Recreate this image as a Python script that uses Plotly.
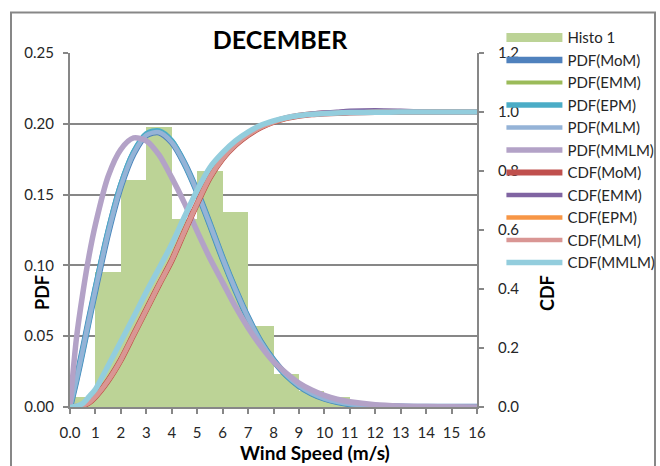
import plotly.graph_objects as go

# ---------------- data ----------------
bin_centers = [0.5, 1.5, 2.5, 3.5, 4.5, 5.5, 6.5, 7.5, 8.5, 9.5, 10.5, 11.5]
histo = [0.007, 0.095, 0.160, 0.198, 0.133, 0.167, 0.138, 0.057, 0.023, 0.011, 0.007, 0.002]

x_curve = [0, 0.25, 0.5, 0.75, 1, 1.5, 2, 2.5, 3, 3.5, 4, 4.5, 5, 5.5, 6, 6.5,
           7, 7.5, 8, 8.5, 9, 9.5, 10, 10.5, 11, 12, 13, 14, 15, 16]

pdf_mom = [0, 0.019, 0.040, 0.062, 0.083, 0.123, 0.156, 0.179, 0.192, 0.194, 0.187, 0.172,
           0.152, 0.129, 0.105, 0.083, 0.063, 0.046, 0.033, 0.0226, 0.015, 0.0097, 0.006,
           0.0036, 0.0021, 0.00065, 0.00017, 0.00004, 0.00001, 0]
pdf_emm = [0, 0.019, 0.040, 0.062, 0.083, 0.123, 0.156, 0.179, 0.192, 0.194, 0.187, 0.172,
           0.152, 0.129, 0.105, 0.083, 0.063, 0.046, 0.033, 0.0226, 0.015, 0.0097, 0.006,
           0.0036, 0.0021, 0.00065, 0.00017, 0.00004, 0.00001, 0]
pdf_epm = [0, 0.019, 0.040, 0.062, 0.084, 0.124, 0.157, 0.180, 0.193, 0.195, 0.188, 0.172,
           0.152, 0.129, 0.105, 0.083, 0.063, 0.046, 0.033, 0.0226, 0.015, 0.0097, 0.006,
           0.0036, 0.0021, 0.00065, 0.00017, 0.00004, 0.00001, 0]
pdf_mlm = [0, 0.019, 0.040, 0.062, 0.083, 0.123, 0.156, 0.179, 0.192, 0.194, 0.187, 0.172,
           0.152, 0.129, 0.105, 0.083, 0.063, 0.046, 0.033, 0.0226, 0.015, 0.0097, 0.006,
           0.0036, 0.0021, 0.00065, 0.00017, 0.00004, 0.00001, 0]
pdf_mmlm = [0, 0.048, 0.080, 0.107, 0.129, 0.163, 0.182, 0.190, 0.188, 0.178, 0.162, 0.144,
            0.124, 0.105, 0.088, 0.071, 0.056, 0.043, 0.032, 0.024, 0.017, 0.012, 0.0082,
            0.0055, 0.0037, 0.0016, 0.0007, 0.0003, 0.0001, 0.00005]

cdf_mom = [0, 0.001, 0.005, 0.015, 0.035, 0.090, 0.160, 0.245, 0.330, 0.415, 0.497, 0.595,
           0.690, 0.778, 0.842, 0.888, 0.922, 0.948, 0.966, 0.979, 0.987, 0.992, 0.995,
           0.997, 0.998, 1.0, 1.0, 1.0, 1.0, 1.0]
cdf_emm = [0, 0.001, 0.005, 0.015, 0.035, 0.090, 0.160, 0.245, 0.330, 0.415, 0.497, 0.595,
           0.690, 0.778, 0.842, 0.888, 0.922, 0.948, 0.966, 0.979, 0.988, 0.994, 0.998,
           1.001, 1.004, 1.006, 1.004, 1.001, 1.0, 1.0]
cdf_epm = [0, 0.001, 0.005, 0.015, 0.035, 0.090, 0.160, 0.245, 0.330, 0.415, 0.497, 0.595,
           0.690, 0.778, 0.842, 0.888, 0.922, 0.948, 0.966, 0.979, 0.987, 0.992, 0.995,
           0.997, 0.998, 1.0, 1.0, 1.0, 1.0, 1.0]
cdf_mlm = [0, 0.001, 0.005, 0.015, 0.035, 0.090, 0.160, 0.245, 0.330, 0.415, 0.497, 0.595,
           0.690, 0.778, 0.842, 0.888, 0.922, 0.948, 0.966, 0.979, 0.987, 0.992, 0.995,
           0.997, 0.998, 1.0, 1.0, 1.0, 1.0, 1.0]
cdf_mmlm = [0, 0.003, 0.012, 0.035, 0.060, 0.140, 0.222, 0.305, 0.390, 0.470, 0.552, 0.645,
            0.735, 0.812, 0.862, 0.902, 0.932, 0.955, 0.970, 0.981, 0.988, 0.992, 0.995,
            0.997, 0.998, 0.999, 1.0, 1.0, 1.0, 1.0]

x_tickvals = list(range(0, 17))
x_ticktext = ["0.0"] + [str(v) for v in range(1, 17)]

# ---------------- figure ----------------
FONT = "Lato"
AX = "#878787"
TXT = "#262626"

fig = go.Figure()

fig.add_trace(go.Bar(x=bin_centers, y=histo, width=1.0, marker=dict(color="#BCD396", line=dict(width=0)),
                     name="Histo 1", showlegend=False, hoverinfo="x+y"))
# legend proxy for the histogram (wide green swatch)
fig.add_trace(go.Scatter(x=[None], y=[None], mode="lines", name="Histo 1",
                         line=dict(color="#BCD396", width=9)))

pdf_series = [("PDF(MoM)", pdf_mom, "#4F81BD", 6.5),
              ("PDF(EMM)", pdf_emm, "#9BBB59", 4.0),
              ("PDF(EPM)", pdf_epm, "#4BACC6", 5.5),
              ("PDF(MLM)", pdf_mlm, "#95B3D7", 4.5),
              ("PDF(MMLM)", pdf_mmlm, "#B3A2C7", 5.5)]
for name, ys, col, w in pdf_series:
    fig.add_trace(go.Scatter(x=x_curve, y=ys, mode="lines", name=name,
                             line=dict(color=col, width=w, shape="spline", smoothing=0.8)))

cdf_series = [("CDF(MoM)", cdf_mom, "#C0504D", 6.0),
              ("CDF(EMM)", cdf_emm, "#8064A2", 4.5),
              ("CDF(EPM)", cdf_epm, "#F79646", 4.5),
              ("CDF(MLM)", cdf_mlm, "#D99694", 4.5),
              ("CDF(MMLM)", cdf_mmlm, "#93CDDD", 5.5)]
for name, ys, col, w in cdf_series:
    fig.add_trace(go.Scatter(x=x_curve, y=ys, mode="lines", name=name, yaxis="y2",
                             line=dict(color=col, width=w, shape="spline", smoothing=0.8)))

fig.update_layout(
    width=660, height=466,
    margin=dict(l=70, r=183, t=53, b=59, autoexpand=False),
    paper_bgcolor="white", plot_bgcolor="white",
    font=dict(family=FONT, size=15, color=TXT),
    bargap=0,
    title=dict(text="<b>DECEMBER</b>", x=0.516, xref="paper", xanchor="center",
               y=1 - 40 / 466, yref="container", yanchor="middle",
               font=dict(family=FONT, size=25, color="#000000")),
    xaxis=dict(range=[0, 16], tickvals=x_tickvals, ticktext=x_ticktext,
               showgrid=False, zeroline=False, showline=True, linecolor=AX, linewidth=2,
               ticks="outside", ticklen=5, tickcolor=AX, tickwidth=2, ticklabelstandoff=6,
               tickfont=dict(size=15, color=TXT)),
    yaxis=dict(range=[0, 0.25], dtick=0.05, tickformat=".2f",
               showgrid=True, gridcolor=AX, gridwidth=1.5, zeroline=False,
               showline=True, linecolor=AX, linewidth=2,
               ticks="outside", ticklen=5, tickcolor=AX, tickwidth=2, ticklabelstandoff=6,
               tickfont=dict(size=15, color=TXT)),
    yaxis2=dict(range=[0, 1.2], dtick=0.2, tickformat=".1f", overlaying="y", side="right",
                showgrid=False, zeroline=False, showline=True, linecolor=AX, linewidth=2,
                ticks="outside", ticklen=5, tickcolor=AX, tickwidth=2, ticklabelstandoff=11,
                tickfont=dict(size=15, color=TXT)),
    legend=dict(x=1.06, xanchor="left", y=1.09, yanchor="top", bgcolor="rgba(0,0,0,0)",
                font=dict(family=FONT, size=15, color=TXT), itemwidth=56,
                traceorder="normal", tracegroupgap=0, maxheight=460),
    showlegend=True,
)

fig.add_annotation(text="<b>PDF</b>", x=(42 - 70) / 407, y=(407 - 293) / 354, xref="paper", yref="paper",
                   xanchor="center", yanchor="middle",
                   showarrow=False, textangle=-90, font=dict(family=FONT, size=18, color="#000000"))
fig.add_annotation(text="<b>CDF</b>", x=(547 - 70) / 407, y=(407 - 293) / 354, xref="paper", yref="paper",
                   xanchor="center", yanchor="middle",
                   showarrow=False, textangle=-90, font=dict(family=FONT, size=18, color="#000000"))
fig.add_annotation(text="<b>Wind Speed (m/s)</b>", x=(315 - 70) / 407, y=(407 - 452) / 354,
                   xref="paper", yref="paper", xanchor="center", yanchor="middle", showarrow=False,
                   font=dict(family=FONT, size=19, color="#000000"))

fig.add_shape(type="rect", xref="paper", yref="paper",
              x0=(11 - 70) / 407, x1=(655 - 70) / 407, y0=(407 - 475) / 354, y1=(407 - 12.5) / 354,
              line=dict(color=AX, width=2), fillcolor="rgba(0,0,0,0)", layer="below")

fig.write_html("out.html")
